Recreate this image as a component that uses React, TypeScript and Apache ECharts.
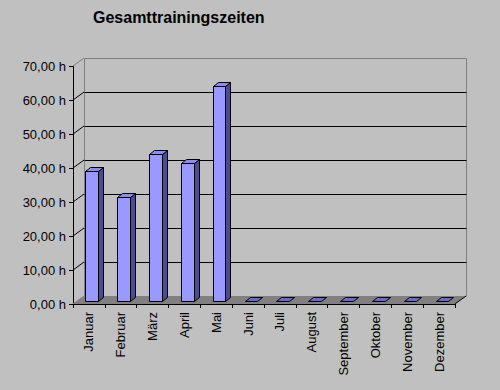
import React, { useEffect, useRef } from "react";
import * as echarts from "echarts";

const months = [
  "Januar", "Februar", "März", "April", "Mai", "Juni",
  "Juli", "August", "September", "Oktober", "November", "Dezember",
];
const hours = [38.4, 30.7, 43.4, 40.5, 63.4, 0, 0, 0, 0, 0, 0, 0];
const yTicks = [0, 10, 20, 30, 40, 50, 60, 70];
const yTickLabels = ["0,00 h", "10,00 h", "20,00 h", "30,00 h", "40,00 h", "50,00 h", "60,00 h", "70,00 h"];
const chartTitle = "Gesamttrainingszeiten";

const DX = 11;
const DY = -8;
const FONT = "'Liberation Sans', Arial, sans-serif";
const c = (v: number) => Math.round(v - 0.5) + 0.5;

export default function App() {
  const ref = useRef<HTMLDivElement>(null);
  useEffect(() => {
    if (!ref.current) return;
    const chart = echarts.init(ref.current, undefined, { renderer: "svg" });
    const option: any = {
      animation: false,
      backgroundColor: "#c0c0c0",
      title: {
        text: chartTitle,
        left: 88,
        top: 4,
        textStyle: { fontSize: 16, fontWeight: "bold", fontFamily: FONT, color: "#000" },
      },
      grid: { left: 73, right: 45, top: 66, bottom: 86, containLabel: false },
      xAxis: {
        type: "category",
        data: months,
        boundaryGap: true,
        axisLine: { show: true, lineStyle: { color: "#000", width: 1 } },
        axisTick: { show: true, length: 4, interval: 0, lineStyle: { color: "#000" } },
        axisLabel: { rotate: 90, interval: 0, margin: 8, fontSize: 13, fontFamily: FONT, color: "#000" },
        splitLine: { show: false },
        z: 5,
      },
      yAxis: {
        type: "value",
        min: 0,
        max: 70,
        interval: 10,
        axisLine: { show: true, lineStyle: { color: "#000", width: 1 } },
        axisTick: { show: true, length: 4, lineStyle: { color: "#000" } },
        axisLabel: {
          margin: 7,
          fontSize: 13,
          fontFamily: FONT,
          color: "#000",
          formatter: (v: number) => yTickLabels[yTicks.indexOf(v)] ?? "",
        },
        splitLine: { show: false },
      },
      series: [
        {
          type: "custom",
          clip: false,
          z: 1,
          silent: true,
          data: [[0, 0]],
          renderItem: (params: any, api: any) => {
            const bw = api.size([1, 0])[0];
            const p0 = api.coord([0, 0]);
            const pN = api.coord([months.length - 1, 0]);
            const L = p0[0] - bw / 2;
            const R = pN[0] + bw / 2;
            const bottom = p0[1];
            const top = api.coord([0, yTicks[yTicks.length - 1]])[1];
            const children: any[] = [];
            children.push({
              type: "polygon",
              shape: { points: [[L, bottom], [R, bottom], [R + DX, bottom + DY], [L + DX, bottom + DY]] },
              style: { fill: "#808080", stroke: null },
            });
            children.push({
              type: "polyline",
              shape: { points: [[c(L + DX), c(bottom + DY)], [c(L + DX), c(top + DY)], [c(R + DX), c(top + DY)], [c(R + DX), c(bottom + DY)]] },
              style: { fill: null, stroke: "#808080", lineWidth: 1 },
            });
            yTicks.forEach((t, idx) => {
              const y = api.coord([0, t])[1];
              const isEdge = idx === 0 || idx === yTicks.length - 1;
              if (!isEdge) {
                children.push({
                  type: "line",
                  shape: { x1: c(L + DX), y1: c(y + DY), x2: c(R + DX), y2: c(y + DY) },
                  style: { stroke: "#000", lineWidth: 1 },
                });
              }
              children.push({
                type: "line",
                shape: { x1: L, y1: y, x2: L + DX, y2: y + DY },
                style: { stroke: isEdge ? "#808080" : "#000", lineWidth: 1 },
              });
            });
            children.push({
              type: "line",
              shape: { x1: R, y1: bottom, x2: R + DX, y2: bottom + DY },
              style: { stroke: "#000", lineWidth: 1 },
            });
            return { type: "group", children };
          },
        },
        {
          type: "custom",
          clip: false,
          z: 3,
          data: hours.map((v, i) => [i, v]),
          renderItem: (params: any, api: any) => {
            const i = api.value(0);
            const v = api.value(1);
            const base = api.coord([i, 0]);
            const topP = api.coord([i, v]);
            const bw = api.size([1, 0])[0];
            const half = bw * 0.2;
            const f1 = 0.3;
            const f2 = 0.75;
            const ax = c(base[0] - half + DX * f1);
            const bx = c(base[0] + half + DX * f1);
            const yb = c(base[1] + DY * f1);
            const yt = c(topP[1] + DY * f1);
            const sdx = Math.round(DX * (f2 - f1));
            const sdy = Math.round(DY * (f2 - f1));
            const children: any[] = [];
            if (v > 0) {
              children.push({
                type: "polygon",
                shape: { points: [[ax, yt], [bx, yt], [bx, yb], [ax, yb]] },
                style: { fill: "#9999ff", stroke: "#000", lineWidth: 1 },
              });
              children.push({
                type: "polygon",
                shape: { points: [[bx, yt], [bx + sdx, yt + sdy], [bx + sdx, yb + sdy], [bx, yb]] },
                style: { fill: "#4b4b8f", stroke: "#000", lineWidth: 1 },
              });
            }
            children.push({
              type: "polygon",
              shape: { points: [[ax, yt], [ax + sdx, yt + sdy], [bx + sdx, yt + sdy], [bx, yt]] },
              style: { fill: v > 0 ? "#8c8cef" : "#6a6ac8", stroke: "#000", lineWidth: 1 },
            });
            return { type: "group", children };
          },
        },
      ],
    };
    chart.setOption(option);
    return () => chart.dispose();
  }, []);
  return (
    <div
      ref={ref}
      style={{ position: "fixed", left: 0, top: 0, width: 500, height: 390 }}
    />
  );
}
